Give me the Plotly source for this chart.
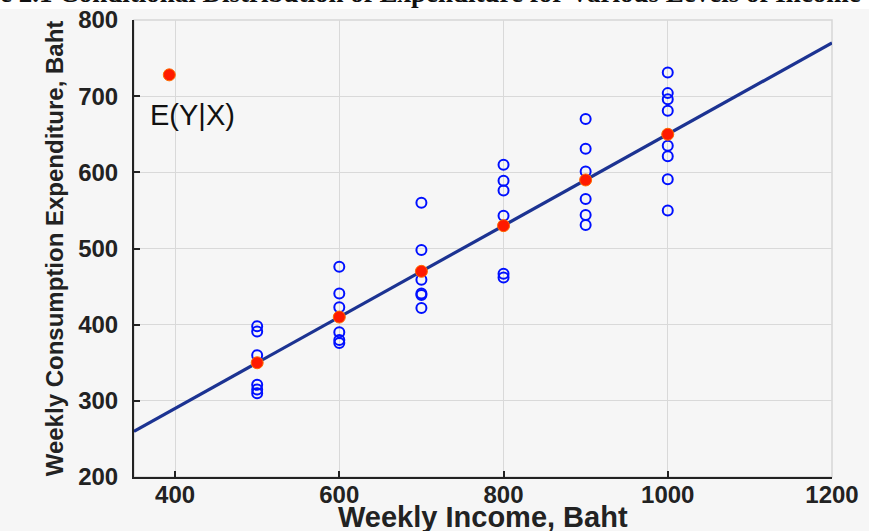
import plotly.graph_objects as go

# ---- data ----
income_levels = [500, 600, 700, 800, 900, 1000]
expenditure = {
    500: [310, 315, 321, 360, 391, 398],
    600: [376, 380, 390, 423, 441, 476],
    700: [422, 439, 441, 459, 498, 560],
    800: [462, 467, 543, 576, 589, 610],
    900: [531, 544, 565, 601, 631, 670],
    1000: [550, 591, 621, 635, 681, 696, 704, 731],
}
cond_means = [350, 410, 470, 530, 590, 650]
line_x = [350, 1200]
line_y = [260, 770]
legend_marker_x = [393]
legend_marker_y = [728]
x_ticks = [400, 600, 800, 1000, 1200]
y_ticks = [200, 300, 400, 500, 600, 700, 800]

scatter_x = [x for x in income_levels for _ in expenditure[x]]
scatter_y = [v for x in income_levels for v in expenditure[x]]

BG = "#f6f6f6"
PT, PB, PL, PR = 20, 477, 134, 832
PH, PW = PB - PT, PR - PL

fig = go.Figure()

fig.add_trace(go.Scatter(
    x=line_x, y=line_y, mode="lines",
    line=dict(color="#1c3392", width=3.2), hoverinfo="skip"))

fig.add_trace(go.Scatter(
    x=scatter_x, y=scatter_y, mode="markers",
    marker=dict(symbol="circle-open", size=10, color="#0010ff",
                line=dict(width=2, color="#0010ff"))))

fig.add_trace(go.Scatter(
    x=income_levels + legend_marker_x, y=cond_means + legend_marker_y,
    mode="markers",
    marker=dict(symbol="circle", size=12, color="#ff1a00",
                line=dict(width=1, color="#ff6a00"))))

font_bold = dict(family="Liberation Sans, Arial, sans-serif", size=24,
                 color="#222222", weight="bold")

fig.update_layout(
    width=869, height=531,
    margin=dict(l=PL, r=869 - PR, t=PT, b=531 - PB, autoexpand=False),
    paper_bgcolor=BG, plot_bgcolor=BG,
    showlegend=False,
    xaxis=dict(
        range=[350, 1200], tickvals=x_ticks, ticktext=[str(v) for v in x_ticks],
        automargin=False,
        showgrid=True, gridcolor="#d9d9d9", gridwidth=1,
        zeroline=False, showline=True, linecolor="#222222", linewidth=2,
        ticks="inside", ticklen=6, tickcolor="#222222", tickwidth=1.5,
        tickfont=font_bold, ticklabelstandoff=-5,
    ),
    yaxis=dict(
        range=[200, 800], tickvals=y_ticks, ticktext=[str(v) for v in y_ticks],
        automargin=False,
        showgrid=True, gridcolor="#d9d9d9", gridwidth=1,
        zeroline=False, showline=True, linecolor="#222222", linewidth=2,
        ticks="inside", ticklen=6, tickcolor="#222222", tickwidth=1.5,
        tickfont=font_bold, ticklabelstandoff=9,
        title=dict(text="Weekly Consumption Expenditure, Baht", standoff=8,
                   font=dict(family="Liberation Sans, Arial, sans-serif",
                             size=24, color="#222222", weight="bold")),
    ),
    shapes=[
        dict(type="rect", xref="paper", yref="paper", x0=0, x1=1, y0=0, y1=1,
             line=dict(color="#d6d6d6", width=1.5), layer="below"),
        dict(type="rect", xref="paper", yref="paper", x0=-0.3, x1=1.1,
             y0=(PB - 9) / PH, y1=1.2, fillcolor="white",
             line=dict(width=0), layer="above"),
    ],
    annotations=[
        dict(x=0.5, y=(PB - 517) / PH, xref="paper", yref="paper",
             text="Weekly Income, Baht", showarrow=False,
             xanchor="center", yanchor="middle",
             font=dict(family="Liberation Sans, Arial, sans-serif",
                       size=29, color="#222222", weight="bold")),
        dict(x=367, y=675, xref="x", yref="y", text="E(Y|X)", showarrow=False,
             xanchor="left", yanchor="middle",
             font=dict(family="Liberation Sans, Arial, sans-serif", size=29,
                       color="#111111")),
        dict(x=(-66 - PL) / PW, y=(PB + 7) / PH, xref="paper", yref="paper",
             text="Figure 2.1 Conditional Distribution of Expenditure for Various Levels of Income",
             showarrow=False, xanchor="left", yanchor="middle",
             font=dict(family="Liberation Serif, Times New Roman, serif", size=27,
                       color="#111111", weight="bold")),
    ],
)

fig.write_html("out.html")
